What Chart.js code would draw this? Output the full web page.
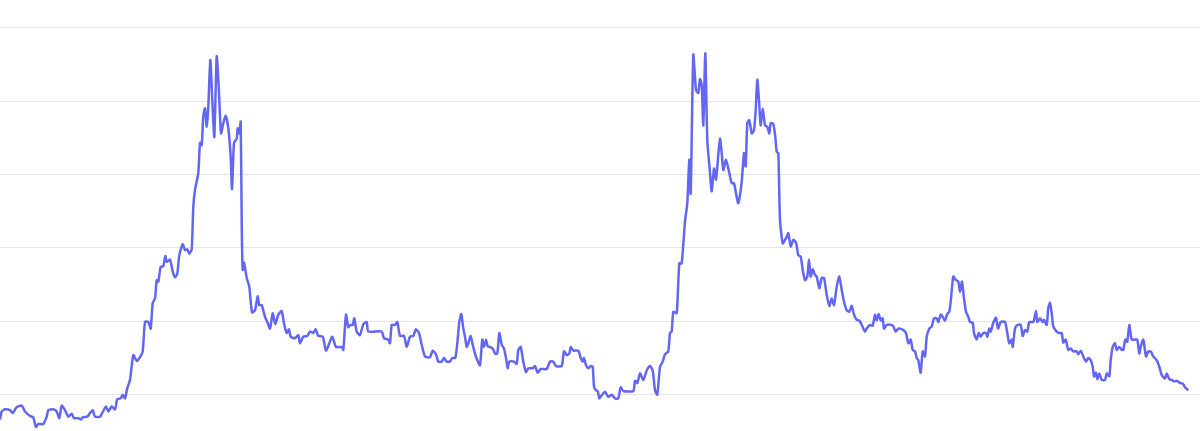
<!DOCTYPE html>
<html>
<head>
<meta charset="utf-8">
<script src="https://cdn.jsdelivr.net/npm/chart.js@4/dist/chart.umd.min.js"></script>
<style>
  html, body { margin: 0; padding: 0; background: #fff; }
  #wrap { width: 1200px; height: 431px; }
</style>
</head>
<body>
<div id="wrap"><canvas id="trendChart" width="1200" height="431"></canvas></div>
<script>
// series positions along the time axis (day index) and values
const days = [
  0, 1.7, 5, 10, 12.7, 16.7, 21.7, 25, 30, 33.3, 36, 38.3, 43.3, 46.7, 48.3, 53.3, 56.7, 59.3, 61.7, 65,
  68.3, 71.7, 74, 78.3, 80.7, 82.7, 87.3, 90, 92.7, 95, 100, 103.3, 106, 108.3, 111.7, 115, 117.3, 120.7, 122.7, 125,
  127.3, 130, 133.3, 136.7, 140, 142.7, 145, 148.3, 150.7, 152.7, 155, 156.7, 158.3, 160.7, 163.3, 165.3, 166.7, 170, 172.7, 175,
  177.3, 179.3, 182.7, 185, 187.3, 189.3, 191.7, 193.3, 195, 198.3, 200, 201.7, 203.3, 205, 206.7, 208.3, 210.3, 212.3, 214.3, 216.7,
  218.7, 221, 223.3, 225.7, 228.3, 230.7, 232, 234, 236.7, 237.7, 239.3, 240.7, 241.7, 242.7, 244, 246.7, 249.3, 252, 255, 257.7,
  259.3, 261.7, 265, 267.3, 270, 272.7, 275.3, 278.3, 281.7, 284, 286.7, 289, 290.7, 295, 298.3,
  300, 303.3, 307.3, 310, 313.3, 315.7, 318.3, 322.7, 326, 329.3, 332.3, 336, 341.7, 343.3, 346, 348.3, 350.7, 352.7, 354.3, 356.7,
  360, 363.3, 366.7, 368.3, 381.7, 384, 388.3, 390, 391.7, 395, 397.3, 400, 404, 406.7, 410, 413.3, 415.7, 419, 421.7, 425,
  430, 432.7, 436, 438.3, 441.7, 444, 446.7, 450, 452.3, 455.3, 457.3, 459.3, 461.3, 463.3, 465, 466.7, 468.3, 470.7, 472.7, 475,
  477.3, 480, 482.3, 484, 486, 487.7, 490, 492.7, 495, 497.3, 499.3, 501.7, 504, 506, 507.7, 509.3, 514, 516.7, 518.3, 520.7,
  523.3, 526, 528.3, 532.7, 535, 537.7, 540.7, 546.7, 550, 553.3, 556, 561.7, 564, 566.7, 569.3, 570.7, 573.3, 578.3, 580.7, 582.7,
  584, 586, 588.3, 590.7, 592.7, 594, 596, 597.7, 599.3,
  600, 603.3, 605, 608.3, 611.7, 615, 618.3, 620.7, 623.3, 633.3, 635, 637.3, 640, 643.3, 646.7, 650, 652.7, 655, 657.3, 660,
  662.7, 665, 668.3, 670, 671.7, 673.3, 676.7, 679.3, 681.7, 685, 687.3, 689.3, 690.7, 693.3, 696, 698.3, 700, 701.7, 703.3, 705.3,
  707.3, 710, 711.7, 714, 716, 718.3, 720, 721.7, 723.3, 726, 729.3, 731.7, 734, 736, 738.3, 741.7, 744, 745.7, 747.3, 749.3,
  751.7, 754, 755.7, 757.3, 759, 760.7, 762.7, 765, 767.3, 769.3, 770.7, 773.3, 775.3, 776.7, 778.3, 780, 782.7, 785, 786.7, 788.3,
  790.7, 793.3, 796, 798.3, 800.7, 802.7, 805, 807.3, 809, 810.7, 812.7, 815, 816.7, 819.3, 821.7, 824, 826.7, 829.3, 831.7, 834,
  836.7, 839.3, 841.7, 844, 846.7, 849.3, 851.7, 854, 856.7, 859.3, 861.7, 865, 866.7, 870, 872.7, 875, 876.7, 878.7, 880.7, 882.7,
  884, 886.7, 891.7, 893.3, 895.7, 898.3,
  900, 903.3, 906, 908.3, 910.7, 912.7, 915, 916.7, 918.3, 920.7, 922.7, 925, 926.7, 929.3, 931.7, 934, 936.7, 938.3, 940.7, 942.7,
  945, 947.3, 949.3, 950.7, 953.3, 956, 958.3, 960, 962, 964, 966, 968.3, 970, 972.7, 974, 976.7, 978.7, 980.7, 983.3, 986,
  987.3, 989.3, 990.7, 993.3, 996, 998, 1000.7, 1005, 1007.3, 1009.3, 1011.7, 1012.7, 1015, 1017.3, 1020.7, 1022.7, 1025, 1027.3, 1029.3, 1033.3,
  1036, 1037.3, 1040, 1042.7, 1044, 1046.7, 1048.3, 1050, 1051.7, 1053.3, 1056.7, 1059.3, 1061.7, 1063.3, 1065.7, 1068.3, 1070.7, 1073.3, 1076.7, 1078.3,
  1080.7, 1083.3, 1086, 1088.3, 1090.7, 1092.7, 1094, 1096, 1097.3, 1099.3, 1101.7, 1105, 1106.7, 1109.3, 1110.7, 1112.7, 1115, 1116.7, 1119.3, 1121.7,
  1123.3, 1125.3, 1127.3, 1129.3, 1131.7, 1135, 1137.3, 1139.3, 1140.7, 1143.3, 1146, 1148.3, 1150.7, 1153.3, 1156.7, 1159.3, 1161.7, 1165, 1166.7, 1169.3,
  1171.7, 1174, 1176.7, 1180, 1182.7, 1185, 1188.3
];

const values = [
  -34, -23, -20, -21, -25, -17, -15, -23, -29, -31, -44, -40, -40, -30, -21, -20, -23, -32, -15, -21,
  -30, -26, -32, -32, -34, -31, -30, -25, -21, -30, -30, -22, -16, -23, -16, -20, -6, -5, 0, -5,
  9, 20, 54, 46, 51, 59, 99, 99, 90, 125, 131, 156, 154, 174, 175, 189, 181, 184, 168, 160,
  165, 190, 205, 197, 198, 192, 198, 256, 279, 302, 343, 340, 379, 390, 365, 392, 456, 401, 351, 461,
  420, 356, 370, 380, 363, 324, 280, 343, 349, 363, 356, 372, 234, 170, 180, 159, 147, 112, 115, 134,
  122, 122, 106, 99, 90, 111, 96, 109, 114, 97, 84, 89, 79, 77, 81,
  70, 79, 80, 86, 84, 89, 80, 79, 60, 70, 79, 65, 65, 61, 109, 92, 95, 95, 104, 86,
  81, 96, 99, 86, 86, 77, 75, 70, 95, 95, 99, 80, 80, 65, 79, 80, 89, 84, 68, 52,
  51, 60, 55, 45, 45, 50, 45, 45, 50, 50, 70, 99, 110, 90, 79, 65, 70, 80, 68, 56,
  47, 40, 75, 65, 75, 66, 65, 63, 56, 56, 84, 68, 63, 50, 36, 45, 45, 42, 61, 65,
  45, 31, 36, 36, 39, 30, 35, 35, 45, 45, 39, 39, 59, 54, 56, 65, 60, 60, 50, 45,
  50, 40, 36, 39, 38, 11, 6, 5, -5,
  -4, 2, 4, -3, 0, -5, -5, 10, 5, 5, 19, 16, 29, 20, 33, 39, 33, 6, 0, 38,
  45, 55, 59, 84, 86, 113, 111, 179, 179, 236, 261, 320, 274, 463, 415, 411, 430, 422, 367, 465,
  347, 302, 277, 308, 293, 327, 349, 329, 306, 320, 302, 288, 288, 274, 261, 290, 329, 311, 370, 374,
  356, 361, 388, 429, 401, 367, 390, 367, 365, 356, 370, 369, 351, 331, 329, 238, 206, 211, 215, 220,
  202, 211, 207, 190, 188, 170, 156, 161, 184, 161, 171, 163, 161, 145, 159, 159, 136, 121, 131, 122,
  147, 161, 143, 127, 115, 113, 121, 109, 102, 101, 95, 86, 90, 95, 94, 109, 101, 110, 101, 104,
  90, 95, 95, 93, 86, 90,
  90, 88, 84, 70, 75, 61, 59, 50, 47, 30, 59, 52, 79, 90, 93, 104, 104, 99, 109, 106,
  101, 110, 113, 127, 161, 156, 154, 140, 154, 131, 113, 106, 99, 98, 84, 75, 84, 79, 84, 84,
  79, 90, 86, 98, 105, 90, 99, 99, 84, 70, 75, 65, 90, 95, 95, 80, 88, 86, 99, 99,
  114, 99, 104, 99, 102, 95, 118, 125, 111, 93, 86, 84, 84, 71, 75, 61, 63, 59, 59, 55,
  60, 52, 45, 50, 47, 38, 25, 30, 21, 29, 20, 20, 29, 25, 47, 65, 70, 61, 65, 61,
  61, 75, 72, 95, 75, 75, 75, 56, 65, 75, 52, 59, 59, 52, 47, 38, 27, 22, 29, 21,
  20, 18, 19, 16, 15, 10, 6
];

const gridTicks = [0, 100, 200, 300, 400, 500];

const points = days.map((d, i) => ({ x: d, y: values[i] }));

const ctx = document.getElementById('trendChart').getContext('2d');
new Chart(ctx, {
    type: 'line',
    data: {
        datasets: [{
            data: points,
            borderColor: '#6366f1',
            borderWidth: 2.5,
            pointRadius: 0,
            tension: 0.2,
            fill: false
        }]
    },
    options: {
        responsive: false,
        animation: false,
        layout: { padding: 0 },
        plugins: { legend: { display: false }, tooltip: { enabled: false } },
        scales: {
            x: { type: 'linear', min: 0, max: 1200, display: false },
            y: {
                min: -49.5,
                max: 537.7,
                afterBuildTicks: (axis) => { axis.ticks = gridTicks.map(v => ({ value: v })); },
                ticks: { display: false },
                border: { display: false },
                grid: { color: '#e5e5e5', drawTicks: false }
            }
        }
    }
});
</script>
</body>
</html>
